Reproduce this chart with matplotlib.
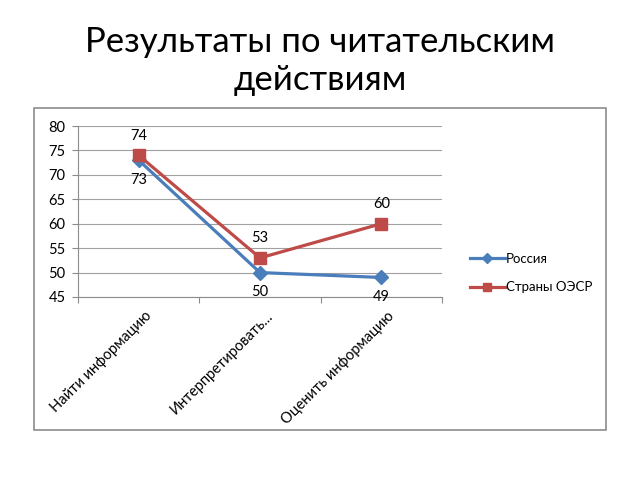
from matplotlib import pyplot as plt
from matplotlib.patches import Rectangle

plt.rcParams['font.family'] = ['Lato', 'Open Sans', 'DejaVu Sans']

categories = ['Найти информацию', 'Интерпретировать...', 'Оценить информацию']
russia = [73, 50, 49]
oecd = [74, 53, 60]

blue = '#4a7ebb'
red = '#be4b48'

fig = plt.figure(figsize=(6.4, 4.8), dpi=100)
fig.text(0.5, 1 - 61 / 480, 'Результаты по читательским\nдействиям', ha='center', va='center',
         fontsize=25, linespacing=1.2)

# рамка диаграммы
fig.patches.append(Rectangle((34 / 640, 1 - 430 / 480), 572 / 640, 322 / 480,
                             transform=fig.transFigure, fill=False,
                             edgecolor='#8c8c8c', linewidth=1.2))

ax = fig.add_axes([78 / 640, 1 - 297 / 480, 364 / 640, 171 / 480])
x = range(len(categories))
ax.plot(x, russia, color=blue, lw=2.3, marker='D', ms=7, label='Россия')
ax.plot(x, oecd, color=red, lw=2.3, marker='s', ms=9, label='Страны ОЭСР')

for i, v in enumerate(russia):
    ax.annotate(str(v), (i, v), xytext=(0, -9), textcoords='offset points',
                ha='center', va='top', fontsize=10.5)
for i, v in enumerate(oecd):
    ax.annotate(str(v), (i, v), xytext=(0, 9), textcoords='offset points',
                ha='center', va='bottom', fontsize=10.5)

ax.set_xlim(-0.5, 2.5)
ax.set_ylim(45, 80)
ax.set_yticks(range(45, 81, 5))
ax.yaxis.grid(True, color='#a0a0a0', lw=0.8)
ax.set_axisbelow(True)
for s in ['top', 'right']:
    ax.spines[s].set_visible(False)
for s in ['left', 'bottom']:
    ax.spines[s].set_color('#8c8c8c')
ax.tick_params(axis='y', labelsize=10.5, length=4, color='#8c8c8c', pad=5)
ax.set_xticks([-0.5, 0.5, 1.5, 2.5])
ax.set_xticklabels([])
ax.tick_params(axis='x', length=4, color='#8c8c8c')
for i, c in enumerate(categories):
    ax.text(i + 0.09, 41.5, c, rotation=45, rotation_mode='anchor',
            ha='right', va='center', fontsize=10.5, transform=ax.transData)

ax.legend(loc='center left', bbox_to_anchor=(1.045, 0.14), frameon=False,
          fontsize=9.5, handlelength=2.6, labelspacing=1.25, handletextpad=0.1,
          markerscale=0.7)

fig.savefig('out.png', dpi=100)
